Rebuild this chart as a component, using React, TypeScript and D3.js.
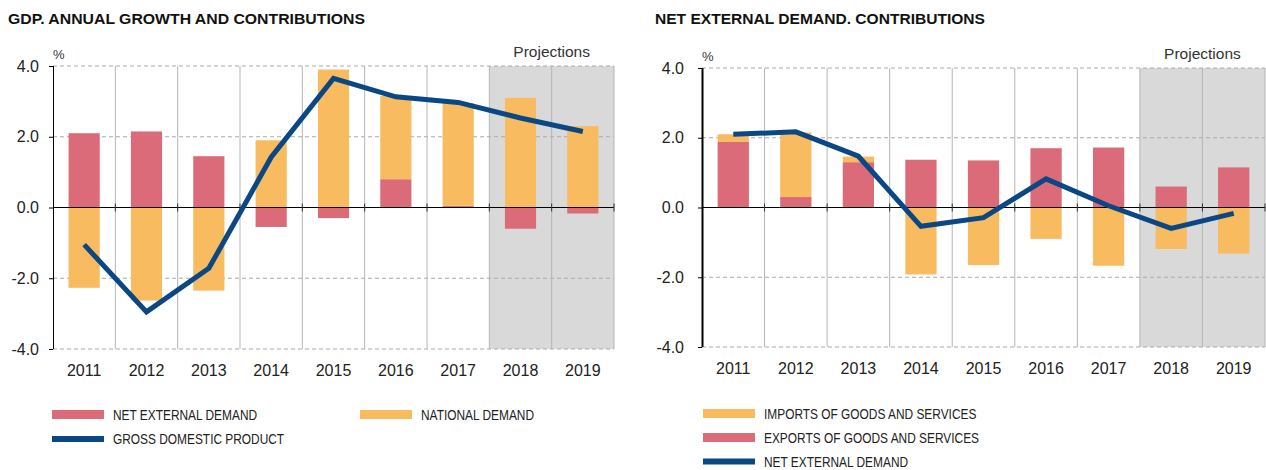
import React, { useEffect, useRef } from "react";
import * as d3 from "d3";

const years = ["2011", "2012", "2013", "2014", "2015", "2016", "2017", "2018", "2019"];
const firstProjectionYear = "2018";
const yTicks = [-4, -2, 0, 2, 4];

// left chart: GDP growth and contributions
const netExternalDemand = [2.1, 2.15, 1.45, -0.55, -0.3, 0.8, 0.05, -0.6, -0.17];
const nationalDemand = [-2.27, -2.63, -2.35, 1.9, 3.9, 2.35, 2.9, 3.1, 2.3];
const gdpGrowth = [-1.05, -2.95, -1.72, 1.42, 3.65, 3.13, 2.97, 2.53, 2.15];

// right chart: net external demand contributions
const exportsContribution = [1.88, 0.3, 1.3, 1.37, 1.35, 1.7, 1.72, 0.6, 1.15];
const importsContribution = [0.22, 1.85, 0.16, -1.92, -1.65, -0.9, -1.67, -1.19, -1.32];
const netExternalLine = [2.1, 2.17, 1.47, -0.54, -0.29, 0.82, 0.05, -0.6, -0.17];

const PINK = "#db6b78";
const YELLOW = "#f8bb5f";
const BLUE = "#0a4784";
const FONT = "'Helvetica Neue', Helvetica, 'Liberation Sans', Arial, sans-serif";

type LegendItem = { label: string; color: string; kind: "bar" | "line"; x: number; y: number };

type PanelCfg = {
  title: string;
  titleX: number;
  titleW: number;
  x0: number;
  x1: number;
  yTop: number;
  yBottom: number;
  axisWidth: number;
  tickPad: number;
  bottom: number[];
  top: number[];
  line: number[];
  legend: LegendItem[];
};

const panels: PanelCfg[] = [
  {
    title: "GDP. ANNUAL GROWTH AND CONTRIBUTIONS",
    titleX: 8,
    titleW: 357,
    x0: 53,
    x1: 614,
    yTop: 66,
    yBottom: 349,
    axisWidth: 1,
    tickPad: 10,
    bottom: netExternalDemand,
    top: nationalDemand,
    line: gdpGrowth,
    legend: [
      { label: "NET EXTERNAL DEMAND", color: PINK, kind: "bar", x: 52, y: 414.5 },
      { label: "NATIONAL DEMAND", color: YELLOW, kind: "bar", x: 360, y: 414.5 },
      { label: "GROSS DOMESTIC PRODUCT", color: BLUE, kind: "line", x: 52, y: 439 },
    ],
  },
  {
    title: "NET EXTERNAL DEMAND. CONTRIBUTIONS",
    titleX: 655,
    titleW: 330,
    x0: 702,
    x1: 1265,
    yTop: 68,
    yBottom: 347,
    axisWidth: 2,
    tickPad: 14,
    bottom: exportsContribution,
    top: importsContribution,
    line: netExternalLine,
    legend: [
      { label: "IMPORTS OF GOODS AND SERVICES", color: YELLOW, kind: "bar", x: 703, y: 413.5 },
      { label: "EXPORTS OF GOODS AND SERVICES", color: PINK, kind: "bar", x: 703, y: 437.5 },
      { label: "NET EXTERNAL DEMAND", color: BLUE, kind: "line", x: 703, y: 461.5 },
    ],
  },
];

const drawPanel = (svg: d3.Selection<SVGSVGElement, unknown, null, undefined>, p: PanelCfg) => {
  const g = svg.append("g");

  const x = d3.scaleBand<string>().domain(years).range([p.x0, p.x1]).paddingInner(0).paddingOuter(0);
  const y = d3.scaleLinear().domain([-4, 4]).range([p.yBottom, p.yTop]);
  const bw = x.bandwidth();
  const barW = bw * 0.5;

  // title
  g.append("text")
    .attr("x", p.titleX)
    .attr("y", 24)
    .attr("font-family", FONT)
    .attr("font-weight", "bold")
    .attr("font-size", 14.5)
    .attr("fill", "#111")
    .attr("textLength", p.titleW)
    .attr("lengthAdjust", "spacingAndGlyphs")
    .text(p.title);

  // projections shading
  const px = x(firstProjectionYear) as number;
  g.append("rect")
    .attr("x", px)
    .attr("y", p.yTop)
    .attr("width", p.x1 - px)
    .attr("height", p.yBottom - p.yTop)
    .attr("fill", "#d9d9d9");

  g.append("text")
    .attr("x", x("2019") as number)
    .attr("y", p.yTop - 9)
    .attr("text-anchor", "middle")
    .attr("font-family", FONT)
    .attr("font-size", 15.5)
    .attr("fill", "#333")
    .text("Projections");

  // % label
  g.append("text")
    .attr("x", p.x0)
    .attr("y", p.yTop - 7)
    .attr("font-family", FONT)
    .attr("font-size", 13)
    .attr("fill", "#333")
    .text("%");

  // dashed horizontal grid
  g.append("g")
    .selectAll("line")
    .data(yTicks.filter(d => d !== 0))
    .join("line")
    .attr("x1", p.x0)
    .attr("x2", p.x1)
    .attr("y1", d => y(d))
    .attr("y2", d => y(d))
    .attr("stroke", "#aaa")
    .attr("stroke-dasharray", "4,3");

  // vertical grid at band boundaries
  const bounds = years.slice(1).map(d => x(d) as number).concat([p.x1]);
  g.append("g")
    .selectAll("line")
    .data(bounds)
    .join("line")
    .attr("x1", d => d)
    .attr("x2", d => d)
    .attr("y1", p.yTop)
    .attr("y2", p.yBottom)
    .attr("stroke", "#b5b5b5");

  // stacked bars
  const rows = years.map((yr, i) => ({ year: yr, a: p.bottom[i], b: p.top[i] }));
  const stacked = d3
    .stack<any>()
    .keys(["a", "b"])
    .offset(d3.stackOffsetDiverging)(rows);
  const colors = [PINK, YELLOW];

  g.append("g")
    .selectAll("g")
    .data(stacked)
    .join("g")
    .attr("fill", (d, i) => colors[i])
    .selectAll("rect")
    .data(d => d)
    .join("rect")
    .attr("x", d => (x(d.data.year) as number) + (bw - barW) / 2)
    .attr("width", barW)
    .attr("y", d => y(Math.max(d[0], d[1])))
    .attr("height", d => Math.abs(y(d[0]) - y(d[1])));

  // zero line with small ticks
  g.append("line")
    .attr("x1", p.x0)
    .attr("x2", p.x1)
    .attr("y1", y(0))
    .attr("y2", y(0))
    .attr("stroke", "#000");
  g.append("g")
    .selectAll("line")
    .data(bounds)
    .join("line")
    .attr("x1", d => d)
    .attr("x2", d => d)
    .attr("y1", y(0) - 4)
    .attr("y2", y(0) + 4)
    .attr("stroke", "#333");

  // line series
  const line = d3
    .line<number>()
    .x((d, i) => (x(years[i]) as number) + bw / 2)
    .y(d => y(d));
  g.append("path")
    .attr("d", line(p.line))
    .attr("fill", "none")
    .attr("stroke", BLUE)
    .attr("stroke-width", 5)
    .attr("stroke-linejoin", "miter");

  // y axis
  const yAxis = g
    .append("g")
    .attr("transform", `translate(${p.x0},0)`)
    .call(
      d3
        .axisLeft(y)
        .tickValues(yTicks)
        .tickSize(4)
        .tickPadding(p.tickPad)
        .tickFormat(d => (+d).toFixed(1))
    );
  yAxis.select(".domain").attr("stroke", "#000").attr("stroke-width", p.axisWidth).attr("d", `M0.5,${p.yTop}V${p.yBottom}`);
  yAxis.selectAll("text").attr("font-family", FONT).attr("font-size", 16).attr("fill", "#222");

  // x axis labels
  const xAxis = g
    .append("g")
    .attr("transform", `translate(0,${p.yBottom})`)
    .call(d3.axisBottom(x).tickSize(0).tickPadding(16));
  xAxis.select(".domain").remove();
  xAxis.selectAll("text").attr("font-family", FONT).attr("font-size", 16).attr("fill", "#222");

  // legend
  const leg = g.append("g").selectAll("g").data(p.legend).join("g");
  leg
    .append("rect")
    .attr("x", d => d.x)
    .attr("y", d => (d.kind === "bar" ? d.y - 4.5 : d.y - 3))
    .attr("width", 52)
    .attr("height", d => (d.kind === "bar" ? 9 : 6))
    .attr("fill", d => d.color);
  leg
    .append("text")
    .attr("transform", d => `translate(${d.x + 61},${d.y}) scale(0.85,1)`)
    .attr("dy", "0.36em")
    .attr("font-family", FONT)
    .attr("font-size", 14)
    .attr("fill", "#222")
    .text(d => d.label);
};

const App = () => {
  const ref = useRef<SVGSVGElement>(null);

  useEffect(() => {
    if (!ref.current) return;
    const svg = d3.select(ref.current);
    svg.selectAll("*").remove();
    panels.forEach(p => drawPanel(svg, p));
  }, []);

  return (
    <svg
      ref={ref}
      width={1266}
      height={470}
      style={{ position: "absolute", left: 0, top: 0, background: "#fff" }}
    />
  );
};

export default App;
